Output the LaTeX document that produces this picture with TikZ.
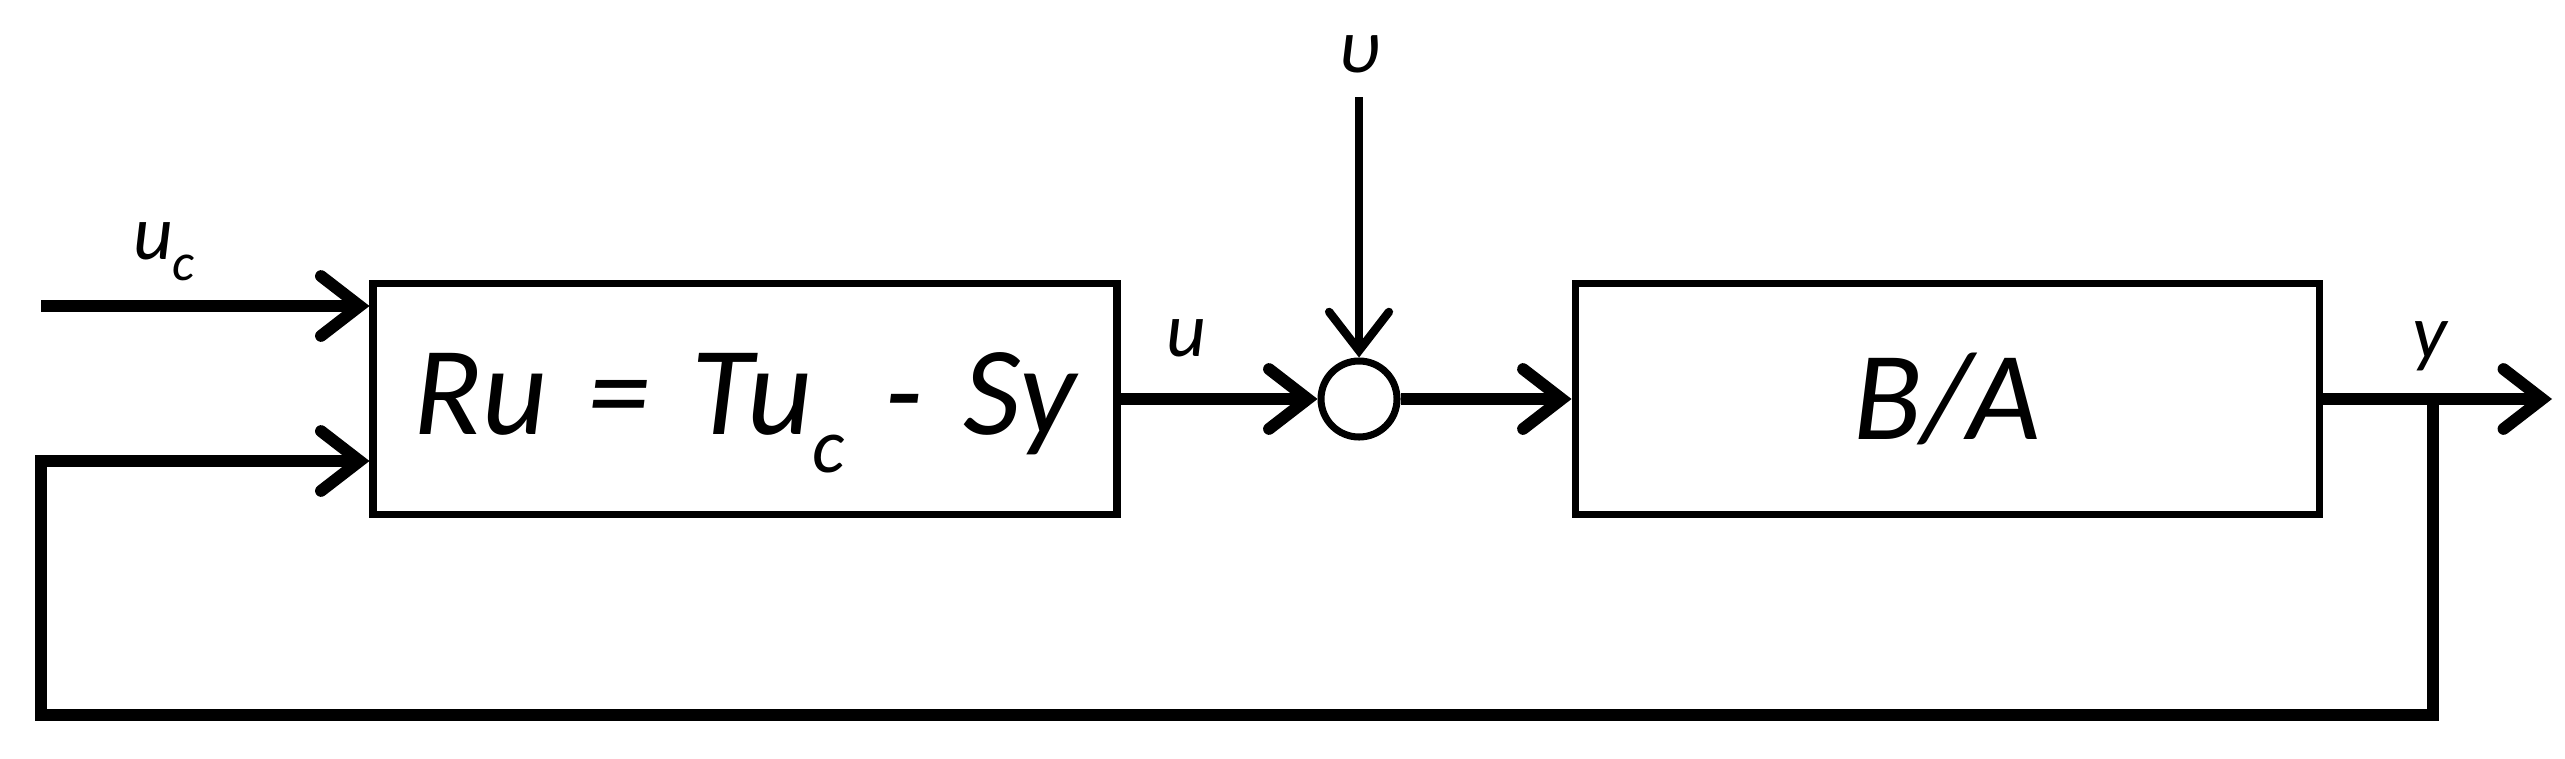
\documentclass[tikz,border=0pt]{standalone}
\usepackage{fontspec}
\setmainfont{Carlito}
\usepackage{tikz}
\usetikzlibrary{arrows.meta, positioning}

\begin{document}
\begin{tikzpicture}[
    block/.style={rectangle, draw, line width=2pt, minimum width=7.44cm, minimum height=2.31cm, inner sep=0pt, font=\fontsize{36}{40}\selectfont\itshape},
    sumnode/.style={circle, draw, line width=2pt, minimum size=0.76cm, inner sep=0pt},
    sig/.style={font=\fontsize{22}{26}\selectfont\itshape, inner sep=1pt},
    arr/.style={-{Straight Barb[length=11pt, width=17pt, line cap=round]}, line width=3.4pt},
]
\useasboundingbox (0,0) rectangle (25.65,7.58);

% Blocks
\node[block, text height=1.05cm, text depth=0.35cm] (ctrl) at (7.45,3.59) {\spaceskip=0.32em Ru = Tu\raisebox{-11pt}{\fontsize{22}{22}\selectfont c} - Sy};
\node[sumnode, right=1.97cm of ctrl] (sum) {};
\node[block, right=1.71cm of sum] (plant) {B/A};

% Free ends
\coordinate (ucin) at (0.41,4.52);
\coordinate[above=2.6cm of sum] (dist);
\coordinate (yout) at (25.52,3.59);
\coordinate (branch) at (24.33,3.59);
\coordinate (fbcorner) at (0.41,0.43);

% Arrows
\draw[arr] (ucin) -- (ucin -| ctrl.west);
\draw[arr] (ctrl) -- (sum);
\draw[arr, line width=2.4pt] (dist) -- (sum.north);
\draw[arr] (sum) -- (plant);
\draw[arr] (plant) -- (yout);
\draw[arr] (branch) |- (fbcorner) |- ([yshift=-0.62cm]ctrl.west);

% Labels
\node[sig] (lbluc) at (1.64,5.06) {u\raisebox{-6pt}{\fontsize{15}{15}\selectfont c}};
\node[sig] (lblu) at (11.86,4.20) {u};
\node[sig, above=0.2cm of dist] (lbldist) {υ};
\node[sig] (lbly) at (24.30,4.12) {y};
\end{tikzpicture}
\end{document}
